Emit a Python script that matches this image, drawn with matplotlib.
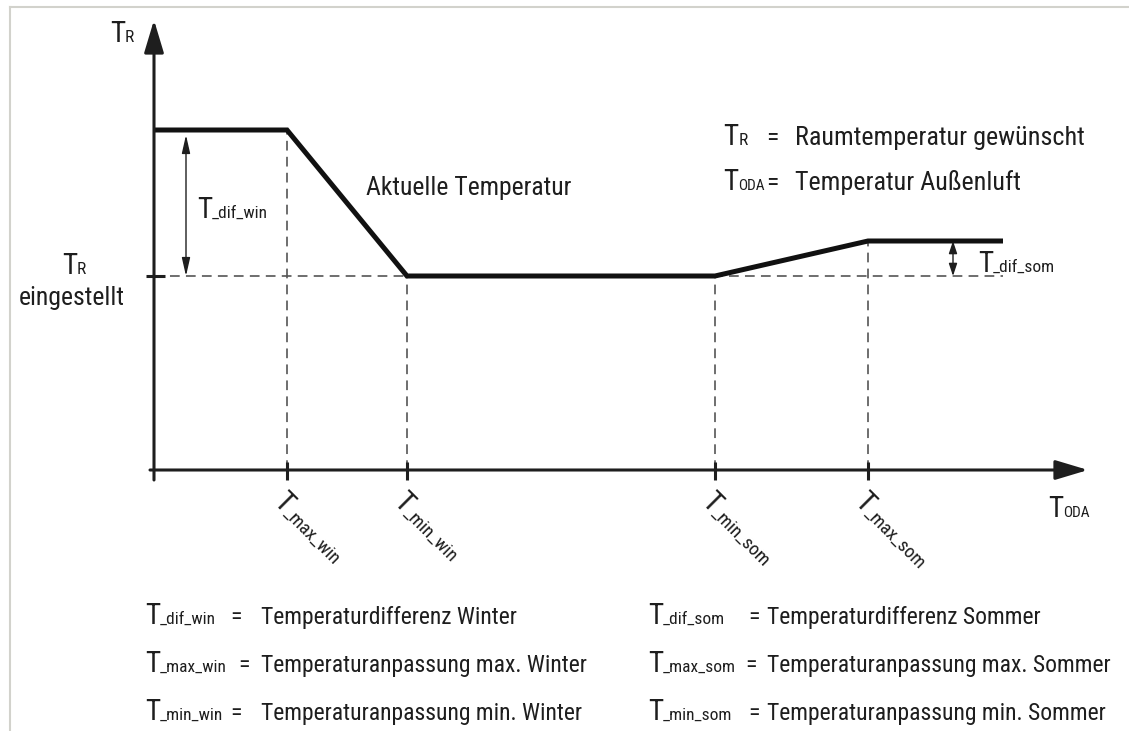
import numpy as np
import matplotlib
matplotlib.use("Agg")
import matplotlib.pyplot as plt
import matplotlib.transforms as mtransforms
from matplotlib import font_manager
from matplotlib.lines import Line2D

# pick a narrow sans face if one is installed
avail = {f.name for f in font_manager.fontManager.ttflist}
family = "DejaVu Sans"
for fam in ["Liberation Sans Narrow", "Roboto Condensed", "DejaVu Sans Condensed", "Liberation Sans"]:
    if fam in avail:
        family = fam
        break
plt.rcParams["font.family"] = [family, "DejaVu Sans"]
plt.rcParams["lines.scale_dashes"] = False

# outdoor temperature break points (x) and room set points (y), diagram units
x_breaks = [133, 253, 561, 714]
x_names = ["_max_win", "_min_win", "_min_som", "_max_som"]
x_end = 849
t_set = 194      # T_R eingestellt
t_winter = 340   # set point + T_dif_win
t_summer = 229   # set point + T_dif_som

curve_x = [0, x_breaks[0], x_breaks[1], x_breaks[2], x_breaks[3], x_end]
curve_y = [t_winter, t_winter, t_set, t_set, t_summer, t_summer]

legend_left = [("_dif_win", "Temperaturdifferenz Winter"),
               ("_max_win", "Temperaturanpassung max. Winter"),
               ("_min_win", "Temperaturanpassung min. Winter")]
legend_right = [("_dif_som", "Temperaturdifferenz Sommer"),
                ("_max_som", "Temperaturanpassung max. Sommer"),
                ("_min_som", "Temperaturanpassung min. Sommer")]

BIG = 21
TXT = 18.5
TXT_B = 17.0
SUB = 12.5
INK = "#1e1e1e"
DASH = "#555555"

fig = plt.figure(figsize=(11.29, 7.31), dpi=100)
ax = fig.add_axes([0, 0, 1, 1])
ax.set_xlim(-154, 975)
ax.set_ylim(-261, 470)
ax.axis("off")
renderer = fig.canvas.get_renderer()


def rich(x, y, parts, rot=0):
    # draw (text, size) pieces one after another on a common baseline
    a = np.deg2rad(rot)
    off = 0.0
    for s, size in parts:
        tr = mtransforms.offset_copy(ax.transData, fig=fig, x=off * np.cos(a),
                                     y=off * np.sin(a), units="dots")
        ax.text(x, y, s, fontsize=size, rotation=rot, rotation_mode="anchor",
                ha="left", va="baseline", color=INK, transform=tr)
        tmp = ax.text(0, 0, s, fontsize=size)
        off += tmp.get_window_extent(renderer).width
        tmp.remove()


def arrow(x0, y0, x1, y1, style, lw):
    ax.annotate("", xy=(x1, y1), xytext=(x0, y0),
                arrowprops=dict(arrowstyle=style, mutation_scale=10, lw=lw,
                                color=INK, shrinkA=0, shrinkB=0))


# dashed guide lines
ax.plot([0, x_end], [t_set, t_set], color=DASH, lw=1.2, dashes=(7, 4.5))
guide_top = [t_winter, t_set, t_set, t_summer]
for xb, yt in zip(x_breaks, guide_top):
    ax.plot([xb, xb], [0, yt], color=DASH, lw=1.2, dashes=(7, 4.5))

# axes with arrow heads
arrow(0, -10, 0, 450, "-|>,head_length=2.0,head_width=0.6", 2.2)
arrow(-4, 0, 934, 0, "-|>,head_length=2.0,head_width=0.6", 2.2)
ax.vlines(x_breaks, -10, 8, color=INK, lw=2.2)
ax.hlines(t_set, -8, 11, color=INK, lw=2.2)

# room temperature curve
ax.plot(curve_x, curve_y, color="#111111", lw=3.6, solid_joinstyle="miter",
        solid_capstyle="butt")

# differences
arrow(32, t_set, 32, t_winter - 5, "<|-|>,head_length=1.1,head_width=0.25", 1.0)
arrow(799, t_set, 799, t_summer, "<|-|>,head_length=0.75,head_width=0.25", 1.0)
rich(43, 252, [("T", BIG), ("_dif_win", SUB)])
rich(824, 198, [("T", BIG), ("_dif_som", SUB)])

# axis labels
rich(-44, 428, [("T", BIG), ("R", SUB)])
rich(894, -47, [("T", BIG), ("ODA", 11)])
rich(-92, 196, [("T", BIG), ("R", SUB)])
ax.text(-82, 165, "eingestellt", fontsize=TXT, ha="center", va="baseline", color=INK)
ax.text(212, 275, "Aktuelle Temperatur", fontsize=TXT, ha="left", va="baseline", color=INK)

# rotated break point labels
for xb, name in zip(x_breaks, x_names):
    rich(xb - 15, -33, [("T", BIG), (name, SUB + 1)], rot=-45)

# symbol legend top right
rich(569, 325, [("T", BIG), ("R", SUB)])
ax.text(612, 325, "=", fontsize=TXT, va="baseline", color=INK)
ax.text(641, 325, "Raumtemperatur gewünscht", fontsize=18.8, va="baseline", color=INK)
rich(569, 280, [("T", BIG), ("ODA", 11)])
ax.text(612, 280, "=", fontsize=TXT, va="baseline", color=INK)
ax.text(641, 280, "Temperatur Außenluft", fontsize=18.8, va="baseline", color=INK)

# symbol legend at the bottom
rows_y = [-154, -202, -250]
eq_left = [76, 84, 76]
eq_right = [594, 591, 594]
for (sym, desc), yy, ex in zip(legend_left, rows_y, eq_left):
    rich(-9, yy, [("T", BIG), (sym, SUB)])
    ax.text(ex, yy, "=", fontsize=TXT_B, va="baseline", color=INK)
    ax.text(107, yy, desc, fontsize=TXT_B, va="baseline", color=INK)
for (sym, desc), yy, ex in zip(legend_right, rows_y, eq_right):
    rich(494, yy, [("T", BIG), (sym, SUB)])
    ax.text(ex, yy, "=", fontsize=TXT_B, va="baseline", color=INK)
    ax.text(613, yy, desc, fontsize=TXT_B, va="baseline", color=INK)

# thin frame on the top and left edge
fig.add_artist(Line2D([10 / 1129, 1], [1 - 7 / 731, 1 - 7 / 731],
                      transform=fig.transFigure, color="#d2d2cc", lw=1.5))
fig.add_artist(Line2D([10 / 1129, 10 / 1129], [0, 1 - 7 / 731],
                      transform=fig.transFigure, color="#d2d2cc", lw=1.5))

fig.savefig("out.png", dpi=100)
